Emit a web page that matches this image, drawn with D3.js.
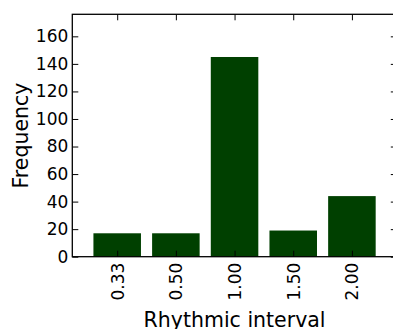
<!DOCTYPE html>
<html>
<head>
<meta charset="utf-8">
<script src="https://cdn.jsdelivr.net/npm/d3@7"></script>
<style>
  html, body { margin: 0; padding: 0; background: #fff; }
  svg { display: block; font-family: "DejaVu Sans", sans-serif; }
</style>
</head>
<body>
<svg id="chart" width="393" height="329"></svg>
<script>
// Rhythmic interval histogram data
const categories = ["0.33", "0.50", "1.00", "1.50", "2.00"];
const frequencies = [17, 17, 145, 19, 44];
const yTicks = [0, 20, 40, 60, 80, 100, 120, 140, 160];
const yMax = 176;

const svg = d3.select("#chart");
const plot = { left: 72.3, right: 396.8, top: 14.3, bottom: 256.7 };
const barColor = "#004000";
const tickLen = 6;

// Bars sit at integer positions; the axis spans a little past the outer bars
const x = d3.scaleLinear()
  .domain([-0.765, categories.length - 1 + 0.765])
  .range([plot.left, plot.right]);
const y = d3.scaleLinear().domain([0, yMax]).range([plot.bottom, plot.top]);
const barWidth = 0.81;

const idx = d3.range(categories.length);

// bars
svg.append("g").selectAll("rect")
  .data(idx)
  .join("rect")
  .attr("x", i => x(i - barWidth / 2))
  .attr("width", i => x(barWidth) - x(0))
  .attr("y", i => y(frequencies[i]))
  .attr("height", i => y(0) - y(frequencies[i]))
  .attr("fill", barColor);

// bottom axis: inward ticks, rotated labels
const xAxisBottom = d3.axisBottom(x)
  .tickValues(idx)
  .tickFormat(i => categories[i])
  .tickSizeInner(-tickLen)
  .tickSizeOuter(0)
  .tickPadding(6);
const gxb = svg.append("g")
  .attr("transform", `translate(0,${plot.bottom})`)
  .call(xAxisBottom);
gxb.selectAll(".tick text")
  .attr("transform", "rotate(-90)")
  .attr("x", -6)
  .attr("y", 0)
  .attr("dy", "0.35em")
  .attr("text-anchor", "end");

// top axis: inward ticks only
const gxt = svg.append("g")
  .attr("transform", `translate(0,${plot.top})`)
  .call(d3.axisTop(x).tickValues(idx).tickFormat("").tickSizeInner(-tickLen).tickSizeOuter(0));

// left axis
const gyl = svg.append("g")
  .attr("transform", `translate(${plot.left},0)`)
  .call(d3.axisLeft(y).tickValues(yTicks).tickFormat(d3.format("d"))
    .tickSizeInner(-tickLen).tickSizeOuter(0).tickPadding(4));
gyl.selectAll(".tick text").attr("x", -4);

// right axis: inward ticks only
const gyr = svg.append("g")
  .attr("transform", `translate(${plot.right},0)`)
  .call(d3.axisRight(y).tickValues(yTicks).tickFormat("").tickSizeInner(-tickLen).tickSizeOuter(0));

[gxb, gxt, gyl, gyr].forEach(g => {
  g.select(".domain").remove();
  g.selectAll(".tick line").attr("stroke", "#000").attr("stroke-width", 1);
  g.selectAll(".tick text").attr("fill", "#000").attr("font-size", 17)
    .attr("font-family", "DejaVu Sans, sans-serif");
});

// plot frame
svg.append("rect")
  .attr("x", plot.left).attr("y", plot.top)
  .attr("width", plot.right - plot.left)
  .attr("height", plot.bottom - plot.top)
  .attr("fill", "none").attr("stroke", "#000").attr("stroke-width", 1.3);

// axis titles
svg.append("text")
  .attr("x", (plot.left + plot.right) / 2)
  .attr("y", 326.5)
  .attr("text-anchor", "middle")
  .attr("font-size", 20.5)
  .attr("fill", "#000")
  .text("Rhythmic interval");

svg.append("text")
  .attr("transform", `translate(27.5,${(plot.top + plot.bottom) / 2}) rotate(-90)`)
  .attr("text-anchor", "middle")
  .attr("font-size", 20.5)
  .attr("fill", "#000")
  .text("Frequency");
</script>
</body>
</html>
